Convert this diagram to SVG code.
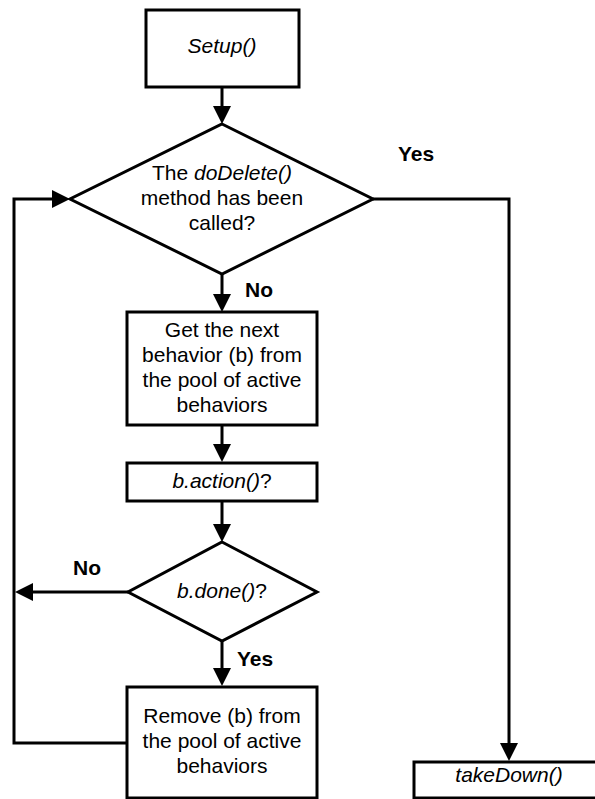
<svg xmlns="http://www.w3.org/2000/svg" width="595" height="799" viewBox="0 0 595 799">
<defs>
<style>
.box{fill:#fff;stroke:#000;stroke-width:3}
.ln{fill:none;stroke:#000;stroke-width:3}
text{font-family:"Liberation Sans",Arial,sans-serif;font-size:21px;fill:#000}
.c{text-anchor:middle}
.i{font-style:italic}
.b{font-weight:bold}
</style>
<marker id="ah" markerUnits="userSpaceOnUse" markerWidth="18" markerHeight="18" refX="8" refY="9" orient="auto">
<path d="M0,0 L18,9 L0,18 z" fill="#000"/>
</marker>
</defs>
<rect width="595" height="799" fill="#fff"/>
<g id="connectors">
<line class="ln" x1="222" y1="87" x2="222" y2="114" marker-end="url(#ah)"/>
<polyline class="ln" points="373,199 509,199 509,751" marker-end="url(#ah)"/>
<line class="ln" x1="222" y1="274" x2="222" y2="302" marker-end="url(#ah)"/>
<line class="ln" x1="222" y1="425" x2="222" y2="452" marker-end="url(#ah)"/>
<line class="ln" x1="222" y1="501" x2="222" y2="532" marker-end="url(#ah)"/>
<line class="ln" x1="128" y1="592" x2="25" y2="592" marker-end="url(#ah)"/>
<line class="ln" x1="222" y1="641" x2="222" y2="676" marker-end="url(#ah)"/>
<polyline class="ln" points="127,743 14,743 14,199 60,199" marker-end="url(#ah)"/>
<text class="b" x="398" y="161">Yes</text>
<text class="b" x="245" y="297">No</text>
<text class="b" x="73" y="575">No</text>
<text class="b" x="237" y="666">Yes</text>
</g>
<g id="setup">
<rect class="box" x="146" y="10" width="153" height="77"/>
<text class="c i" x="222" y="53">Setup()</text>
</g>
<g id="doDelete">
<polygon class="box" points="222,124 373,199 222,274 70,199"/>
<text class="c" x="222" y="180">The <tspan class="i">doDelete()</tspan></text>
<text class="c" x="222" y="205">method has been</text>
<text class="c" x="222" y="230">called?</text>
</g>
<g id="getNext">
<rect class="box" x="127" y="312" width="190" height="113"/>
<text class="c" x="222" y="337">Get the next</text>
<text class="c" x="222" y="362">behavior (b) from</text>
<text class="c" x="222" y="387">the pool of active</text>
<text class="c" x="222" y="412">behaviors</text>
</g>
<g id="action">
<rect class="box" x="127" y="463" width="190" height="38"/>
<text class="c" x="222" y="488"><tspan class="i">b.action()</tspan>?</text>
</g>
<g id="done">
<polygon class="box" points="222,542 317,592 222,641 128,592"/>
<text class="c" x="222" y="598"><tspan class="i">b.done()</tspan>?</text>
</g>
<g id="remove">
<rect class="box" x="127" y="687" width="190" height="111"/>
<text class="c" x="222" y="723">Remove (b) from</text>
<text class="c" x="222" y="748">the pool of active</text>
<text class="c" x="222" y="773">behaviors</text>
</g>
<g id="takeDown">
<rect class="box" x="414" y="762" width="190" height="36"/>
<text class="c i" x="509" y="782">takeDown()</text>
</g>
</svg>
